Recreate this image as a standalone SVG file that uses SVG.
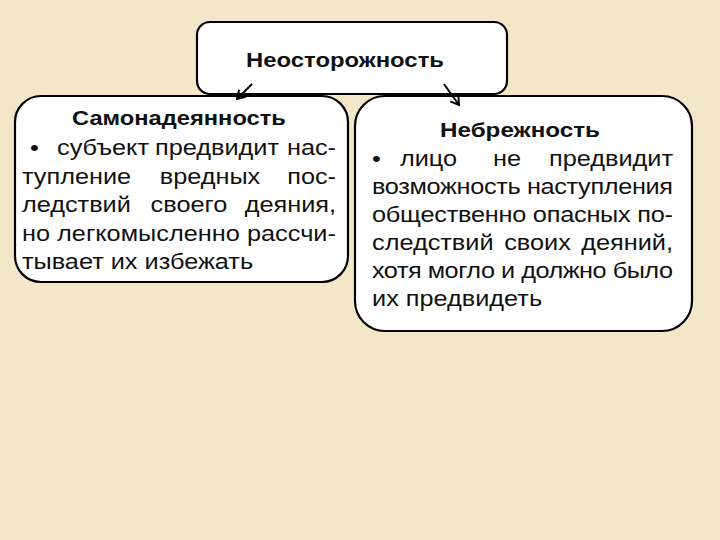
<svg xmlns="http://www.w3.org/2000/svg" width="720" height="540" viewBox="0 0 720 540">
<style>
.box{fill:#fff;stroke:#000;stroke-width:2.2}
.t{font-family:"Liberation Sans",Arial,sans-serif;font-size:22px;fill:#111}
.b{font-family:"Liberation Sans",Arial,sans-serif;font-weight:bold;fill:#111}
.m{text-anchor:middle}
.e{text-anchor:end}
.conn{stroke:#000;stroke-width:2;fill:none}
</style>
<defs>
<marker id="ah" markerUnits="userSpaceOnUse" markerWidth="14" markerHeight="14" refX="9" refY="5" orient="auto">
<path d="M1,0 L9,5 L1,10" fill="none" stroke="#000" stroke-width="2"/>
</marker>
</defs>
<rect x="0" y="0" width="720" height="540" fill="#f4e6c8"/>
<g id="neostorozhnost">
<rect class="box" x="197" y="22" width="310" height="72" rx="13"/>
<text class="b m" x="345" y="67" font-size="21" textLength="198" lengthAdjust="spacingAndGlyphs">Неосторожность</text>
</g>
<g id="samonadeyannost">
<rect class="box" x="15" y="96" width="333" height="186" rx="26"/>
<g transform="scale(1.15,1)">
<text class="b m" x="155.6" y="125" font-size="19.5" textLength="186" lengthAdjust="spacingAndGlyphs">Самонадеянность</text>
<text class="t" x="26.1" y="155">•</text>
<text class="t" x="49.6" y="155">субъект</text>
<text class="t m" x="188.7" y="155">предвидит</text>
<text class="t e" x="292.2" y="155">нас-</text>
<text class="t" x="19.1" y="184">тупление</text>
<text class="t m" x="182.6" y="184">вредных</text>
<text class="t e" x="292.2" y="184">пос-</text>
<text class="t" x="19.1" y="212">ледствий</text>
<text class="t m" x="164.3" y="212">своего</text>
<text class="t e" x="292.2" y="212">деяния,</text>
<text class="t" x="19.1" y="241" textLength="273" lengthAdjust="spacing">но легкомысленно рассчи-</text>
<text class="t" x="19.1" y="269">тывает их избежать</text>
</g>
</g>
<g id="nebrezhnost">
<rect class="box" x="355" y="96" width="337" height="235" rx="30"/>
<g transform="scale(1.15,1)">
<text class="b m" x="452.2" y="137" font-size="19.5" textLength="139.1" lengthAdjust="spacingAndGlyphs">Небрежность</text>
<text class="t" x="323.5" y="166">•</text>
<text class="t" x="347.8" y="166">лицо</text>
<text class="t m" x="440.9" y="166">не</text>
<text class="t e" x="585.2" y="166">предвидит</text>
<text class="t" x="323.5" y="194" textLength="261.7" lengthAdjust="spacing">возможность наступления</text>
<text class="t" x="323.5" y="222" textLength="261.7" lengthAdjust="spacing">общественно опасных по-</text>
<text class="t" x="323.5" y="250">следствий</text>
<text class="t m" x="467.4" y="250">своих</text>
<text class="t e" x="585.2" y="250">деяний,</text>
<text class="t" x="323.5" y="278" textLength="261.7" lengthAdjust="spacing">хотя могло и должно было</text>
<text class="t" x="323.5" y="306">их предвидеть</text>
</g>
</g>
<g id="connectors">
<path class="conn" d="M252,84 L237,99" marker-end="url(#ah)"/>
<path class="conn" d="M444,84 L459,105" marker-end="url(#ah)"/>
</g>
</svg>
